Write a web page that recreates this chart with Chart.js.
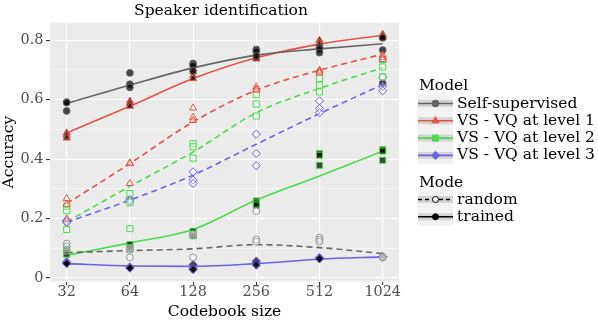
<!DOCTYPE html>
<html>
<head>
<meta charset="utf-8">
<script src="https://cdn.jsdelivr.net/npm/chart.js@4"></script>
<style>
  html, body { margin: 0; padding: 0; background: #fff; }
</style>
</head>
<body>
<canvas id="chart" width="598" height="323"></canvas>
<script>
// codebook sizes and tick labels
const sizes = [32, 64, 128, 256, 512, 1024];
const yMajor = [0, 0.2, 0.4, 0.6, 0.8];
const yMinor = [0.1, 0.3, 0.5, 0.7];
const modelNames = ['Self-supervised', 'VS - VQ at level 1', 'VS - VQ at level 2', 'VS - VQ at level 3'];
const modeNames = ['random', 'trained'];

// smoothed lines (one value per codebook size)
const selfTrainedLine = [0.587, 0.649, 0.707, 0.750, 0.771, 0.788];
const selfRandomLine  = [0.085, 0.092, 0.098, 0.112, 0.102, 0.082];
const vq1TrainedLine  = [0.488, 0.578, 0.671, 0.741, 0.787, 0.817];
const vq1RandomLine   = [0.250, 0.385, 0.525, 0.632, 0.699, 0.753];
const vq2TrainedLine  = [0.076, 0.118, 0.163, 0.262, 0.343, 0.427];
const vq2RandomLine   = [0.189, 0.308, 0.424, 0.556, 0.638, 0.707];
const vq3TrainedLine  = [0.048, 0.040, 0.039, 0.048, 0.063, 0.071];
const vq3RandomLine   = [0.187, 0.262, 0.346, 0.450, 0.553, 0.651];

// single runs (three per codebook size)
const selfTrainedRuns = [[0.592, 0.590, 0.562], [0.690, 0.652, 0.641], [0.722, 0.715, 0.697], [0.769, 0.763, 0.747], [0.776, 0.770, 0.758], [0.808, 0.767, 0.655]];
const selfRandomRuns  = [[0.116, 0.106, 0.090], [0.100, 0.095, 0.069], [0.069, 0.143, 0.148], [0.225, 0.130, 0.122], [0.136, 0.129, 0.122], [0.071, 0.070, 0.069]];
const vq1TrainedRuns  = [[0.488, 0.480, 0.471], [0.595, 0.587, 0.578], [0.694, 0.680, 0.671], [0.745, 0.741, 0.737], [0.800, 0.791, 0.785], [0.820, 0.815, 0.808]];
const vq1RandomRuns   = [[0.267, 0.248, 0.198], [0.387, 0.385, 0.318], [0.572, 0.541, 0.530], [0.643, 0.635, 0.632], [0.699, 0.695, 0.690], [0.750, 0.742, 0.735]];
const vq2TrainedRuns  = [[0.099, 0.091, 0.080], [0.112, 0.102, 0.096], [0.157, 0.147, 0.142], [0.259, 0.252, 0.245], [0.419, 0.413, 0.379], [0.432, 0.427, 0.396]];
const vq2RandomRuns   = [[0.241, 0.226, 0.163], [0.284, 0.253, 0.166], [0.452, 0.441, 0.403], [0.618, 0.585, 0.545], [0.671, 0.649, 0.626], [0.735, 0.710, 0.677]];
const vq3TrainedRuns  = [[0.054, 0.050, 0.048], [0.037, 0.035, 0.033], [0.045, 0.032, 0.028], [0.057, 0.050, 0.043], [0.069, 0.066, 0.064], [0.072, 0.071, 0.070]];
const vq3RandomRuns   = [[0.194, 0.190, 0.186], [0.267, 0.262, 0.258], [0.357, 0.329, 0.318], [0.484, 0.419, 0.378], [0.596, 0.570, 0.556], [0.675, 0.645, 0.630]];

const modelColors = ['rgb(102, 102, 102)', 'rgb(226, 84, 72)', 'rgb(78, 218, 78)', 'rgb(108, 98, 228)'];
const modelShapes = ['circle', 'triangle', 'rect', 'rectRot'];
const modelRadius = [3.4, 4.1, 4.3, 4.1];
const serif = 'DejaVu Serif';

const series = [
  { model: 0, mode: 0, line: selfRandomLine, runs: selfRandomRuns },
  { model: 1, mode: 0, line: vq1RandomLine, runs: vq1RandomRuns },
  { model: 2, mode: 0, line: vq2RandomLine, runs: vq2RandomRuns },
  { model: 3, mode: 0, line: vq3RandomLine, runs: vq3RandomRuns },
  { model: 0, mode: 1, line: selfTrainedLine, runs: selfTrainedRuns },
  { model: 1, mode: 1, line: vq1TrainedLine, runs: vq1TrainedRuns },
  { model: 2, mode: 1, line: vq2TrainedLine, runs: vq2TrainedRuns },
  { model: 3, mode: 1, line: vq3TrainedLine, runs: vq3TrainedRuns },
];

const datasets = [];
series.forEach(s => {
  const col = modelColors[s.model];
  datasets.push({
    type: 'line',
    label: modelNames[s.model] + ' ' + modeNames[s.mode],
    data: sizes.map((n, i) => ({ x: Math.log2(n), y: s.line[i] })),
    borderColor: col,
    borderWidth: 1.6,
    borderDash: s.mode === 0 ? [6, 4] : [],
    cubicInterpolationMode: 'monotone',
    pointRadius: 0,
    fill: false,
    order: 2
  });
  const pts = [];
  sizes.forEach((n, i) => s.runs[i].forEach(v => pts.push({ x: Math.log2(n), y: v })));
  datasets.push({
    type: 'scatter',
    label: modelNames[s.model] + ' ' + modeNames[s.mode] + ' runs',
    data: pts,
    pointStyle: modelShapes[s.model],
    pointRadius: modelRadius[s.model],
    borderWidth: 1,
    borderColor: s.model === 0 && s.mode === 0 ? 'rgb(150, 150, 150)' : col,
    backgroundColor: s.mode === 1 ? 'rgba(0, 0, 0, 0.72)' : 'rgba(255, 255, 255, 0.35)',
    order: 1
  });
});

// panel background, title and legend
const extras = {
  id: 'extras',
  beforeDraw(chart) {
    const { ctx, chartArea: a } = chart;
    ctx.save();
    ctx.fillStyle = '#ebebeb';
    ctx.fillRect(a.left, a.top, a.right - a.left, a.bottom - a.top);
    ctx.restore();
  },
  afterDraw(chart) {
    const ctx = chart.ctx;
    ctx.save();
    ctx.fillStyle = '#000';
    ctx.font = '15.5px "' + serif + '"';
    ctx.textBaseline = 'middle';
    ctx.textAlign = 'center';
    ctx.fillText('Speaker identification', 221, 11);

    ctx.textAlign = 'left';
    const kx = 418, kw = 35, kh = 17.3;
    const drawKey = (cy, color, dash, fill, shape, radius) => {
      ctx.fillStyle = '#f2f2f2';
      ctx.fillRect(kx, cy - kh / 2, kw, kh);
      ctx.fillStyle = '#d4d4d4';
      ctx.fillRect(kx, cy - 3.5, kw, 7);
      ctx.strokeStyle = color;
      ctx.lineWidth = 1.6;
      ctx.setLineDash(dash);
      ctx.beginPath();
      ctx.moveTo(kx, cy);
      ctx.lineTo(kx + kw, cy);
      ctx.stroke();
      ctx.setLineDash([]);
      ctx.fillStyle = fill;
      ctx.strokeStyle = color;
      ctx.lineWidth = 1;
      Chart.helpers.drawPoint(ctx, { pointStyle: shape, radius: radius, rotation: 0, borderWidth: 1 }, kx + kw / 2, cy);
    };

    ctx.fillStyle = '#000';
    ctx.fillText('Model', 419, 86);
    const modelRows = [103.5, 120.8, 138.1, 155.4];
    modelNames.forEach((name, i) => {
      drawKey(modelRows[i], modelColors[i], [], modelColors[i], modelShapes[i], modelRadius[i]);
      ctx.fillStyle = '#000';
      ctx.fillText(name, 457, modelRows[i]);
    });

    ctx.fillText('Mode', 419, 183);
    const modeRows = [199.5, 216.8];
    drawKey(modeRows[0], '#000', [4, 3], '#fff', 'circle', 3);
    drawKey(modeRows[1], '#000', [], '#000', 'circle', 3);
    ctx.fillStyle = '#000';
    modeNames.forEach((name, i) => ctx.fillText(name, 457, modeRows[i]));
    ctx.restore();
  }
};

new Chart(document.getElementById('chart'), {
  type: 'scatter',
  data: { datasets: datasets },
  options: {
    responsive: false,
    animation: false,
    devicePixelRatio: 1,
    layout: { padding: { top: 22.7, right: 199, bottom: 0, left: 0 } },
    plugins: {
      legend: { display: false },
      title: { display: false },
      tooltip: { enabled: false }
    },
    scales: {
      x: {
        type: 'linear',
        min: 4.736,
        max: 10.258,
        afterBuildTicks: scale => { scale.ticks = sizes.map(n => ({ value: Math.log2(n) })); },
        afterFit: scale => { scale.height = 41.5; },
        border: { display: false },
        grid: { color: '#fff', lineWidth: 1.1, tickColor: '#333', tickLength: 3.5 },
        ticks: {
          callback: v => String(Math.round(Math.pow(2, v))),
          font: { family: serif, size: 14.4 },
          color: '#4d4d4d',
          padding: -1,
          maxRotation: 0
        },
        title: {
          display: true,
          text: 'Codebook size',
          font: { family: serif, size: 15.5 },
          color: '#000',
          padding: { top: 0, bottom: 2 }
        }
      },
      y: {
        min: -0.012,
        max: 0.859,
        afterBuildTicks: scale => {
          scale.ticks = yMajor.concat(yMinor).sort((a, b) => a - b).map(v => ({ value: v }));
        },
        afterFit: scale => { scale.width = 50; },
        border: { display: false },
        grid: {
          color: '#fff',
          lineWidth: c => yMajor.includes(c.tick.value) ? 1.1 : 0.55,
          tickColor: c => yMajor.includes(c.tick.value) ? '#333' : 'rgba(0,0,0,0)',
          tickLength: 4
        },
        ticks: {
          callback: v => yMajor.includes(v) ? String(v) : '',
          font: { family: serif, size: 14.4 },
          color: '#4d4d4d',
          padding: 2.5
        },
        title: {
          display: true,
          text: 'Accuracy',
          font: { family: serif, size: 15.5 },
          color: '#000',
          padding: { top: 0, bottom: 0 }
        }
      }
    }
  },
  plugins: [extras]
});
</script>
</body>
</html>
